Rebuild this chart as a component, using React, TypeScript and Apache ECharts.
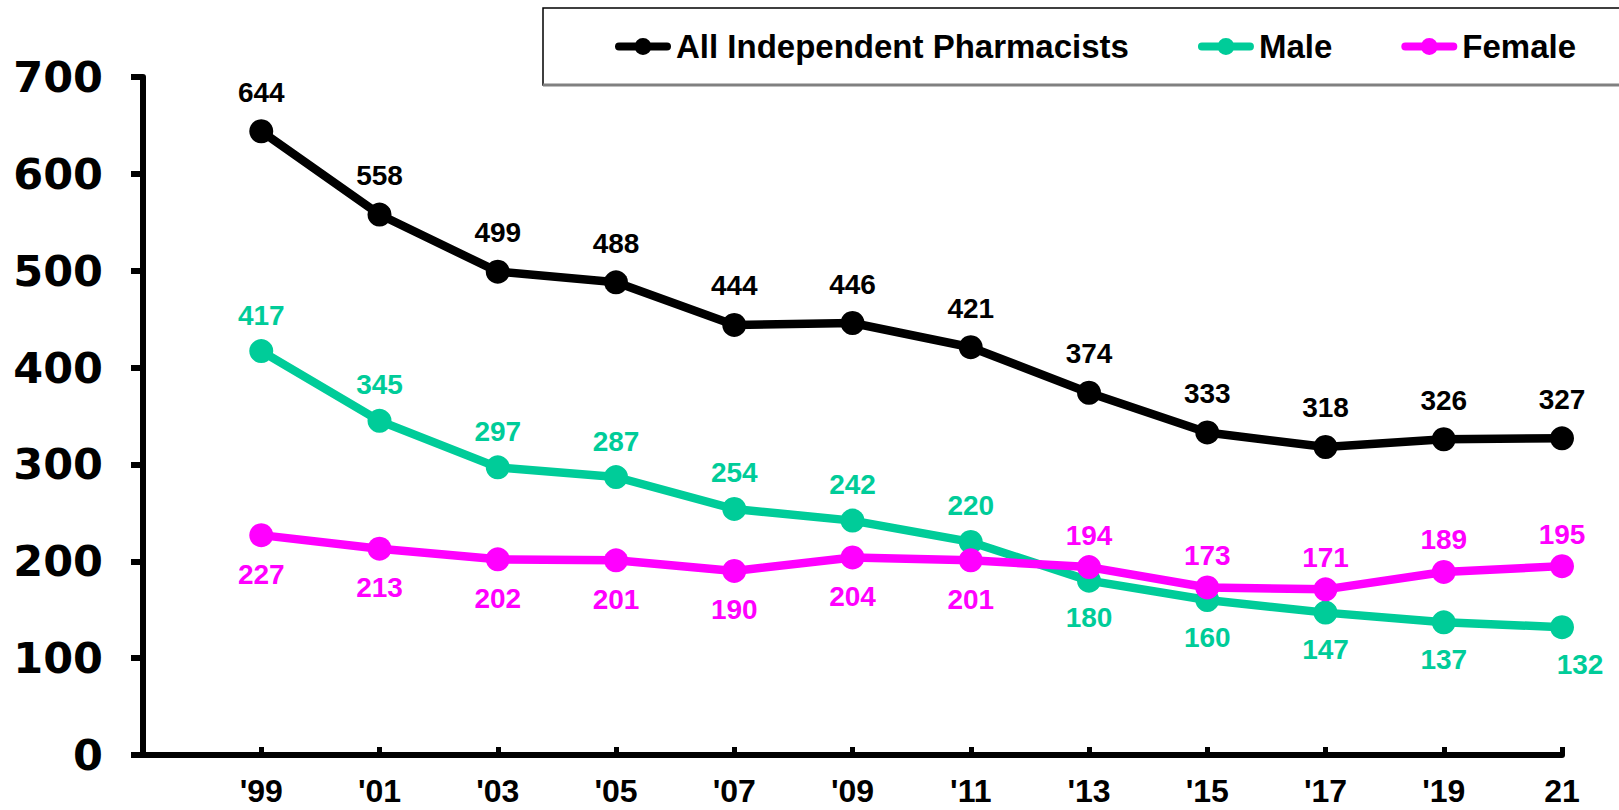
import React, { useEffect, useRef } from "react";
import * as echarts from "echarts";

const years = ["'99", "'01", "'03", "'05", "'07", "'09", "'11", "'13", "'15", "'17", "'19", "21"];
const allPharmacists = [644, 558, 499, 488, 444, 446, 421, 374, 333, 318, 326, 327];
const male = [417, 345, 297, 287, 254, 242, 220, 180, 160, 147, 137, 132];
const female = [227, 213, 202, 201, 190, 204, 201, 194, 173, 171, 189, 195];
const yTicks = [0, 100, 200, 300, 400, 500, 600, 700];

const seriesNames = ["All Independent Pharmacists", "Male", "Female"];
const colors = ["#000000", "#00CC99", "#FF00FF"];
// index from which Male drops below Female (label sides swap)
const crossIndex = 7;

const LABEL_FONT = "'Liberation Sans', Arial, sans-serif";
// legend icon: thick rounded line with a dot in the middle (56 x 17 box)
const LEGEND_ICON =
  "path://M4,4.5 L52,4.5 A4,4 0 0 1 52,12.5 L4,12.5 A4,4 0 0 1 4,4.5 Z M19.5,8.5 A8.5,8.5 0 1 1 36.5,8.5 A8.5,8.5 0 1 1 19.5,8.5 Z";

export default function App() {
  const ref = useRef<HTMLDivElement>(null);

  useEffect(() => {
    document.body.style.margin = "0";
    if (!ref.current) return;
    const chart = echarts.init(ref.current, null, { renderer: "svg" });

    const labelBase = (color: string) => ({
      show: true,
      color,
      fontSize: 28,
      fontWeight: "bold" as const,
      fontFamily: LABEL_FONT,
    });

    const allData = [null, ...allPharmacists];
    const maleData = [
      null,
      ...male.map((v, i) => ({
        value: v,
        label:
          i < crossIndex
            ? { position: "top", distance: 10 }
            : { position: "bottom", distance: 11, offset: i === male.length - 1 ? [18, 0] : [0, 0] },
      })),
    ];
    const femaleData = [
      null,
      ...female.map((v, i) => ({
        value: v,
        label: i < crossIndex ? { position: "bottom", distance: 13 } : { position: "top", distance: 6 },
      })),
    ];

    const mkSeries = (name: string, color: string, data: any[], pos: string, dist: number) => ({
      name,
      type: "line",
      data,
      symbol: "circle",
      symbolSize: 24,
      showAllSymbol: true,
      connectNulls: false,
      lineStyle: { width: 8.5, color },
      itemStyle: { color },
      label: { ...labelBase(color), position: pos, distance: dist },
      z: 3,
    });

    chart.setOption({
      animation: false,
      backgroundColor: "#ffffff",
      grid: { left: 143, right: 57, top: 77, bottom: 55, containLabel: false },
      legend: {
        data: seriesNames,
        icon: LEGEND_ICON,
        left: 610,
        top: 25,
        itemWidth: 56,
        itemHeight: 17,
        itemGap: 69,
        textStyle: {
          fontSize: 33,
          fontWeight: "bold",
          fontFamily: LABEL_FONT,
          color: "#000",
        },
      },
      graphic: [
        {
          type: "rect",
          shape: { x: 543, y: 8, width: 1100, height: 77 },
          style: { fill: "#ffffff", stroke: "#000000", lineWidth: 1.5 },
          z: -1,
          silent: true,
        },
        {
          type: "line",
          shape: { x1: 543, y1: 85, x2: 1640, y2: 85 },
          style: { stroke: "#808080", lineWidth: 3 },
          z: -1,
          silent: true,
        },
      ],
      xAxis: {
        type: "category",
        data: ["", ...years],
        boundaryGap: false,
        axisLine: { show: true, lineStyle: { color: "#000", width: 6 } },
        axisTick: { show: true, inside: true, length: 8, interval: 0, lineStyle: { color: "#000", width: 5 } },
        axisLabel: {
          interval: 0,
          color: "#000",
          fontSize: 32,
          fontWeight: "bold",
          fontFamily: LABEL_FONT,
          margin: 20,
        },
        splitLine: { show: false },
      },
      yAxis: {
        type: "value",
        min: yTicks[0],
        max: yTicks[yTicks.length - 1],
        interval: 100,
        axisLine: { show: true, lineStyle: { color: "#000", width: 6 } },
        axisTick: { show: true, inside: false, length: 12, lineStyle: { color: "#000", width: 6 } },
        axisLabel: {
          color: "#000",
          fontSize: 43,
          fontWeight: "bold",
          fontFamily: "'DejaVu Sans', Verdana, sans-serif",
          margin: 40,
        },
        splitLine: { show: false },
      },
      series: [
        mkSeries(seriesNames[0], colors[0], allData, "top", 13),
        mkSeries(seriesNames[1], colors[1], maleData, "top", 10),
        mkSeries(seriesNames[2], colors[2], femaleData, "bottom", 13),
      ],
    });

    return () => chart.dispose();
  }, []);

  return <div ref={ref} style={{ width: 1619, height: 810 }} />;
}
